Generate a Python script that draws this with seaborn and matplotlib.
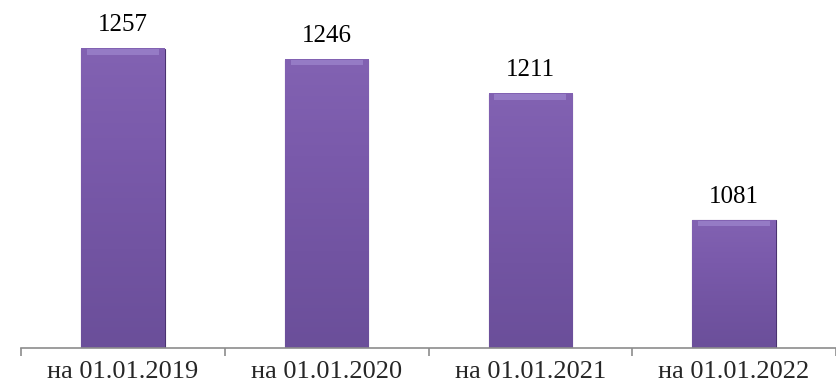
import matplotlib
matplotlib.use("Agg")
import matplotlib.pyplot as plt
import numpy as np
import pandas as pd
import seaborn as sns
from matplotlib.colors import LinearSegmentedColormap

# данные
categories = ["на 01.01.2019", "на 01.01.2020", "на 01.01.2021", "на 01.01.2022"]
values = [1257, 1246, 1211, 1081]

df = pd.DataFrame({"date": categories, "count": values})

sns.set_theme(style="white")
plt.rcParams["font.family"] = ["Liberation Serif", "DejaVu Serif"]

fig = plt.figure(figsize=(8.36, 3.9), dpi=100)
ax = fig.add_axes([21 / 836, 42 / 390, 815 / 836, 341 / 390])

sns.barplot(data=df, x="date", y="count", color="#74569f", width=0.41,
            saturation=1, edgecolor="#4a3370", linewidth=0.8, ax=ax)

ymin, ymax = 950, 1300
ax.set_ylim(ymin, ymax)
ax.set_xlim(-0.5, 3.5)

# градиент на столбцах
cmap = LinearSegmentedColormap.from_list("purp", ["#8262b2", "#7a5aab", "#7254a2", "#6b4f9a"])
for p in ax.patches:
    x0 = p.get_x()
    w = p.get_width()
    top = p.get_y() + p.get_height()
    grad = np.linspace(0, 1, 100).reshape(-1, 1)
    im = ax.imshow(grad, cmap=cmap, aspect="auto", origin="upper",
                   extent=[x0, x0 + w, ymin, top], zorder=p.get_zorder() + 0.1)
    im.set_clip_path(p)
    im.set_clip_box(ax.bbox)
    # светлая фаска сверху
    ax.fill_between([x0 + w * 0.07, x0 + w * 0.93], top - 6, top - 0.6,
                    color="#a08ad0", alpha=0.65, lw=0, zorder=p.get_zorder() + 0.2)
    ax.annotate(f"{int(round(top))}", (x0 + w / 2, top), xytext=(0, 9),
                textcoords="offset points", ha="center", va="bottom", fontsize=18,
                color="black")
ax.set_xlim(-0.5, 3.5)
ax.set_ylim(ymin, ymax)

ax.set_xlabel("")
ax.set_ylabel("")
ax.set_yticks([])
for s in ["top", "right", "left"]:
    ax.spines[s].set_visible(False)
ax.spines["bottom"].set_color("#8c8c8c")
ax.spines["bottom"].set_linewidth(1.2)
ax.spines["bottom"].set_zorder(5)

ax.set_xticks(np.arange(len(categories)))
ax.set_xticklabels(categories, fontsize=19)
ax.set_xticks(np.arange(-0.5, len(categories) + 0.5, 1), minor=True)
ax.tick_params(axis="x", which="major", length=0, pad=9)
ax.tick_params(axis="x", which="minor", length=6, width=1.2, color="#8c8c8c", bottom=True)

fig.savefig("out.png", dpi=100)
